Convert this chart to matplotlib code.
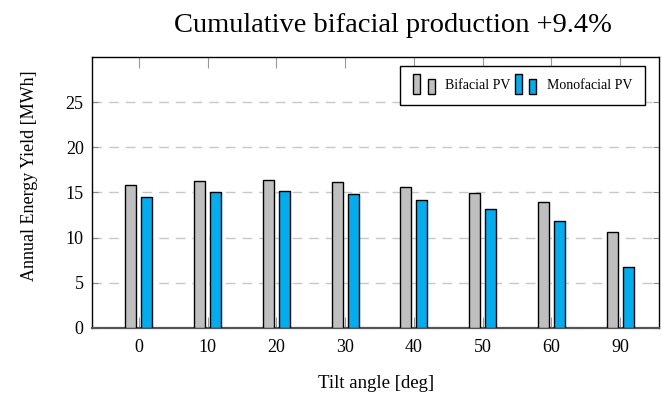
import matplotlib
matplotlib.use("Agg")
import matplotlib.pyplot as plt
import numpy as np
from matplotlib.legend_handler import HandlerBase
from matplotlib.patches import Rectangle

# values
tilt_labels = ["0", "10", "20", "30", "40", "50", "60", "90"]
bifacial = [15.8, 16.3, 16.4, 16.1, 15.6, 14.9, 13.9, 10.6]
monofacial = [14.45, 15.0, 15.15, 14.85, 14.15, 13.15, 11.8, 6.7]

GRAY = "#bfbfbf"
BLUE = "#00aeef"

plt.rcParams["font.family"] = "Liberation Serif"


class TwoBarHandler(HandlerBase):
    # pgfplots-style ybar legend: two small bars of different height
    def create_artists(self, legend, orig_handle, xdescent, ydescent,
                       width, height, fontsize, trans):
        color = orig_handle.get_facecolor()
        w = width * 0.3
        y0 = -ydescent - height * 0.5
        r1 = Rectangle((-xdescent, y0), w, height * 2.0,
                       facecolor=color, edgecolor="black", lw=1.0, transform=trans)
        r2 = Rectangle((-xdescent + width * 0.62, y0), w, height * 1.5,
                       facecolor=color, edgecolor="black", lw=1.0, transform=trans)
        return [r1, r2]


fig = plt.figure(figsize=(6.62, 3.98), dpi=100)
ax = fig.add_axes([0.139, 0.176, 0.857, 0.681])

x = np.arange(len(tilt_labels))
bw = 0.16
off = 0.117
ax.bar(x - off, bifacial, bw, color=GRAY, edgecolor="black", linewidth=1.0, zorder=3)
ax.bar(x + off, monofacial, bw, color=BLUE, edgecolor="black", linewidth=1.0, zorder=3)

ax.set_xlim(-0.68, 7.57)
ax.set_ylim(0, 30)
ax.set_xticks(x)
ax.set_xticklabels(tilt_labels)
ax.set_yticks([0, 5, 10, 15, 20, 25])

ax.yaxis.grid(True, linestyle=(0, (7, 5)), color="#c8c8c8", linewidth=1.0, zorder=0)
ax.tick_params(axis="x", direction="in", top=True, length=8, color="#999999",
               labelsize=13, pad=8)
ax.tick_params(axis="y", direction="in", right=True, length=4, color="#888888",
               labelsize=13, pad=6)
for s in ax.spines.values():
    s.set_linewidth(1.0)
ax.spines["bottom"].set_color("#555555")
ax.spines["bottom"].set_linewidth(1.6)

ax.set_xlabel("Tilt angle [deg]", fontsize=13.5)
ax.set_ylabel("Annual Energy Yield [MWh]", fontsize=13)
ax.xaxis.set_label_coords(0.5, -0.175)
ax.yaxis.set_label_coords(-0.095, 0.56)
fig.text(0.593, 0.935, "Cumulative bifacial production +9.4%", fontsize=20.5,
         ha="center", va="center")

h_bi = Rectangle((0, 0), 1, 1, facecolor=GRAY)
h_mono = Rectangle((0, 0), 1, 1, facecolor=BLUE)
leg = ax.legend([h_bi, h_mono], ["Bifacial PV", "Monofacial PV"],
                handler_map={Rectangle: TwoBarHandler()}, ncol=2,
                loc="upper right", bbox_to_anchor=(0.975, 0.967), borderaxespad=0,
                fontsize=10, frameon=True, fancybox=False, edgecolor="black",
                framealpha=1, handlelength=1.7, handletextpad=0.6,
                columnspacing=0.3, borderpad=0.95)
leg.get_frame().set_linewidth(1.0)

fig.savefig("out.png", dpi=100)
